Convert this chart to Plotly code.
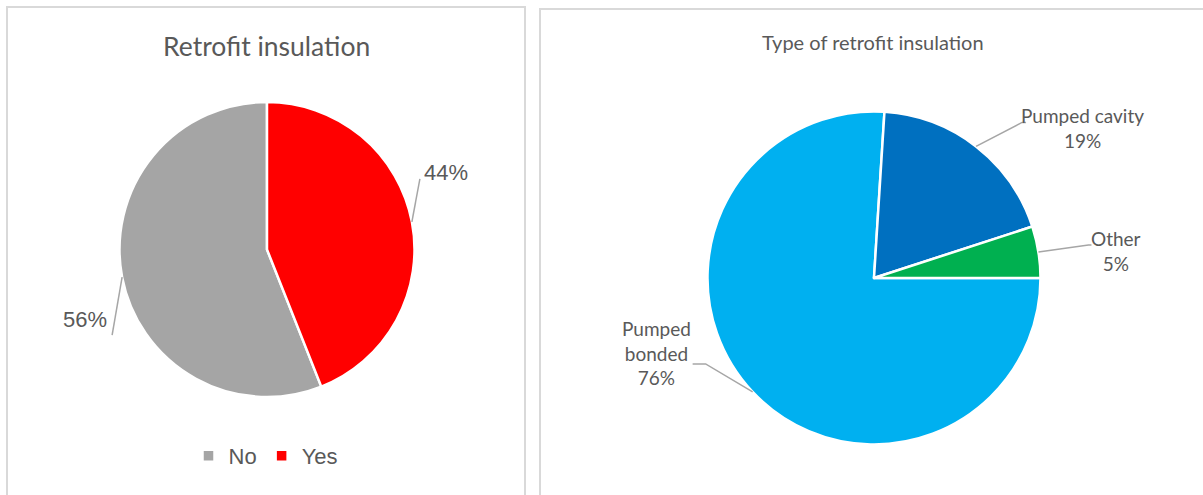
import math
import plotly.graph_objects as go

# ---------------- data ----------------
left_title = "Retrofit insulation"
left_labels = ["No", "Yes"]
left_values = [56, 44]
left_colors = ["#A5A5A5", "#FF0000"]

right_title = "Type of retrofit insulation"
right_labels = ["Pumped bonded", "Pumped cavity", "Other"]
right_text = ["Pumped<br>bonded", "Pumped cavity", "Other"]
right_values = [76, 19, 5]
right_colors = ["#00B0F0", "#0070C0", "#00B050"]

# ---------------- layout constants (pixels) ----------------
W, H = 1203, 495
LEFT_BOX = (119.5, 414.5, 102, 397)      # x0, x1, top, bottom
RIGHT_BOX = (707.5, 1040.5, 111.5, 444.5)
TEXT_COL = "#595959"
LINE_COL = "#A6A6A6"
BORDER_COL = "#D9D9D9"


def px(x):
    return x / W


def py(y):
    return 1 - y / H


def domain(box):
    x0, x1, t, b = box
    return dict(x=[px(x0), px(x1)], y=[py(b), py(t)])


def geom(box):
    x0, x1, t, b = box
    return (x0 + x1) / 2, (t + b) / 2, min(x1 - x0, b - t) / 2


def edge_points(box, values, rotation):
    """mid-angle points on the pie edge for clockwise slices starting at rotation."""
    cx, cy, r = geom(box)
    tot = sum(values)
    ang = rotation
    pts = []
    for v in values:
        span = 360 * v / tot
        a = math.radians(ang + span / 2)
        pts.append((cx + r * math.sin(a), cy - r * math.cos(a)))
        ang += span
    return pts


# left pie: "No" ends at 12 o'clock, so it starts after the "Yes" share
left_rotation = 360 * left_values[1] / sum(left_values)
right_rotation = 90

fig = go.Figure()

fig.add_trace(go.Pie(
    labels=left_labels, values=left_values, sort=False,
    direction="clockwise", rotation=left_rotation,
    marker=dict(colors=left_colors, line=dict(color="white", width=2.5)),
    textinfo="none", hoverinfo="label+percent",
    domain=domain(LEFT_BOX), showlegend=True,
))

fig.add_trace(go.Pie(
    labels=right_labels, values=right_values, sort=False,
    direction="clockwise", rotation=right_rotation,
    marker=dict(colors=right_colors, line=dict(color="white", width=2.5)),
    textinfo="none", hoverinfo="label+percent",
    domain=domain(RIGHT_BOX), showlegend=False,
))

shapes = []
annotations = []

# panel borders
shapes.append(dict(type="path", xref="paper", yref="paper",
                   path=f"M {px(7)},{py(520)} L {px(7)},{py(7)} L {px(525)},{py(7)} L {px(525)},{py(520)}",
                   line=dict(color=BORDER_COL, width=2)))
shapes.append(dict(type="path", xref="paper", yref="paper",
                   path=f"M {px(540)},{py(520)} L {px(540)},{py(9)} L {px(1230)},{py(9)}",
                   line=dict(color=BORDER_COL, width=2)))

# titles
annotations.append(dict(x=px(266), y=py(46), xref="paper", yref="paper", text=left_title,
                        showarrow=False, xanchor="center", yanchor="middle",
                        font=dict(family="Lato", size=26.5, color=TEXT_COL)))
annotations.append(dict(x=px(873), y=py(42), xref="paper", yref="paper", text=right_title,
                        showarrow=False, xanchor="center", yanchor="middle",
                        font=dict(family="Lato", size=20, color=TEXT_COL)))

tot_l = sum(left_values)
tot_r = sum(right_values)

# left labels: (leader points offsets, text offset, anchor)
left_style = {
    "No": ([(-10, 58)], (-13, 42), "right"),
    "Yes": ([(8, -43)], (10, -49), "left"),
}
lpts = edge_points(LEFT_BOX, left_values, left_rotation)
for lab, val, (ex, ey) in zip(left_labels, left_values, lpts):
    legs, (tx, ty), anc = left_style[lab]
    path = f"M {px(ex)},{py(ey)}"
    for dx, dy in legs:
        path += f" L {px(ex + dx)},{py(ey + dy)}"
    shapes.append(dict(type="path", xref="paper", yref="paper", path=path,
                       line=dict(color=LINE_COL, width=1.5)))
    annotations.append(dict(x=px(ex + tx), y=py(ey + ty), xref="paper", yref="paper",
                            text=f"{round(100 * val / tot_l)}%", showarrow=False,
                            xanchor=anc, yanchor="middle",
                            font=dict(family="Liberation Sans", size=22, color=TEXT_COL)))

right_style = {
    "Pumped bonded": ([(-47, -28), (-60, -28)], (-96, -39)),
    "Pumped cavity": ([(46, -24), (50, -24)], (106, -18)),
    "Other": ([(50, -7), (53, -7)], (78, -1)),
}
rpts = edge_points(RIGHT_BOX, right_values, right_rotation)
for lab, txt, val, (ex, ey) in zip(right_labels, right_text, right_values, rpts):
    legs, (tx, ty) = right_style[lab]
    path = f"M {px(ex)},{py(ey)}"
    for dx, dy in legs:
        path += f" L {px(ex + dx)},{py(ey + dy)}"
    shapes.append(dict(type="path", xref="paper", yref="paper", path=path,
                       line=dict(color=LINE_COL, width=1.5)))
    annotations.append(dict(x=px(ex + tx), y=py(ey + ty), xref="paper", yref="paper",
                            text=f"{txt}<br>{round(100 * val / tot_r)}%", showarrow=False,
                            xanchor="center", yanchor="middle", align="center",
                            font=dict(family="Lato", size=19, color=TEXT_COL)))

fig.update_layout(
    width=W, height=H,
    margin=dict(l=0, r=0, t=0, b=0),
    paper_bgcolor="white", plot_bgcolor="white",
    shapes=shapes, annotations=annotations,
    legend=dict(orientation="h", x=px(266), xanchor="center", y=py(456), yanchor="middle",
                font=dict(family="Liberation Sans", size=22, color=TEXT_COL),
                itemwidth=30, bgcolor="rgba(0,0,0,0)"),
)

fig.write_html("out.html")
